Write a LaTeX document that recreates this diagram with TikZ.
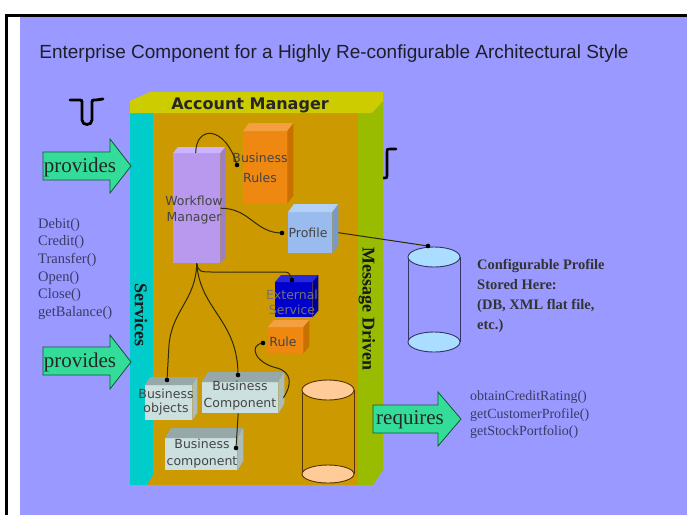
\documentclass[tikz,border=0pt]{standalone}
\usepackage{fontspec}
\setmainfont{Liberation Serif}
\newfontfamily\arialf{Liberation Sans}
\newfontfamily\verdf{DejaVu Sans}
\usetikzlibrary{calc}
\definecolor{bgc}{HTML}{9999FF}
\definecolor{titlec}{HTML}{1E1E2A}
\definecolor{topc}{HTML}{CCCC00}
\definecolor{cyanc}{HTML}{00CCCC}
\definecolor{goldc}{HTML}{CC9900}
\definecolor{greenc}{HTML}{99BB00}
\definecolor{lblc}{HTML}{444444}
\definecolor{connc}{HTML}{2E2A05}
\definecolor{arrc}{HTML}{33DD99}
\definecolor{arrd}{HTML}{115533}
\definecolor{methc}{HTML}{3A3A66}
\definecolor{cylc}{HTML}{333366}
\definecolor{cylf}{HTML}{AADDFF}
\definecolor{cyl2c}{HTML}{553300}
\definecolor{cyl2f}{HTML}{FFCC99}
\definecolor{wmf}{HTML}{B899EE}
\definecolor{wmt}{HTML}{CCB3FF}
\definecolor{wms}{HTML}{9A80CC}
\definecolor{orf}{HTML}{EE8811}
\definecolor{ort}{HTML}{F5A040}
\definecolor{ors}{HTML}{C87000}
\definecolor{pff}{HTML}{99BBEE}
\definecolor{pft}{HTML}{B5D0F5}
\definecolor{pfs}{HTML}{7799CC}
\definecolor{esf}{HTML}{0000CC}
\definecolor{est}{HTML}{2828DD}
\definecolor{ess}{HTML}{000099}
\definecolor{gyf}{HTML}{CCE0E0}
\definecolor{gyt}{HTML}{96A8A8}
\definecolor{gys}{HTML}{AABCBC}
\newcommand\cubefaces[5]{%
  \fill[#2] (#1.north west) -- ++(#4,-#5) -- ([shift={(#4,-#5)}]#1.north east) -- (#1.north east) -- cycle;
  \fill[#3] (#1.north east) -- ([shift={(#4,-#5)}]#1.north east) -- ([shift={(#4,-#5)}]#1.south east) -- (#1.south east) -- cycle;}
\begin{document}
\begin{tikzpicture}[x=1pt,y=-1pt,
  lbl/.style={font=\verdf\fontsize{12.5}{16}\selectfont, text=lblc, align=center, inner sep=0},
  conn/.style={draw=connc, line width=1pt},
  cubebox/.style={inner sep=0, anchor=north west, draw=none},
  greenarrow/.style={fill=arrc, draw=arrd, line width=0.8pt, line join=miter},
  arrtext/.style={font=\fontsize{21}{24}\selectfont, text=black!85, inner sep=0},
  meth/.style={font=\fontsize{14.5}{17.6}\selectfont, text=methc, align=left, inner sep=0, anchor=north west},
  vert/.style={rotate=-90, font=\bfseries\fontsize{18}{20}\selectfont, text=black!90, inner sep=0},
  ]
\useasboundingbox (0,0) rectangle (687,515);
\fill[white] (0,0) rectangle (687,515);
\fill[bgc] (20,16) rectangle (687,515);
\draw[line width=3pt] (6,515) -- (6,15) -- (687,15);

% title
\node[font=\arialf\fontsize{19}{22}\selectfont, text=titlec] (title) at (334,54)
  {Enterprise Component for a Highly Re-configurable Architectural Style};

% interface symbols
\draw[line width=2.8pt, line cap=round] (70,100) -- (78,100) .. controls (82,100) .. (82,104) -- (82,120)
  .. controls (82,126) and (92,126) .. (92,120) -- (92,104) .. controls (92,100) .. (96,100) -- (103,99);
\draw[line width=2.6pt, line cap=round] (396,149) -- (391,149) .. controls (387,149) .. (387,153) -- (387,174)
  .. controls (387,178) .. (383,178) -- (379,178);

% main component box
\fill[cyanc] (130,113) rectangle (153,485);
\fill[goldc] (153,113) -- (358,113) -- (358,485) -- (147,485) -- (153,475) -- cycle;
\fill[greenc] (358,113) -- (372,113) -- (383,101) -- (383,470) -- (373,485) -- (358,485) -- cycle;
\fill[topc] (130,113) -- (130,101) -- (150,92) -- (383,92) -- (383,101) -- (372,113) -- cycle;
\node[font=\verdf\bfseries\fontsize{16}{18}\selectfont, text=black!85, inner sep=0] (am) at (250,105) {Account Manager};
\node[vert] (svc) at (141,315) {Services};
\node[vert] (msg) at (367,309) {Message Driven};

% inner cubes
\node[cubebox, fill=wmf, minimum width=47, minimum height=110] (wm) at (173,153) {};
\cubefaces{wm}{wmt}{wms}{5}{6}
\node[cubebox, fill=orf, minimum width=44, minimum height=72] (br) at (243,131) {};
\cubefaces{br}{ort}{ors}{6}{8}
\node[cubebox, fill=pff, minimum width=44, minimum height=41] (pf) at (288,212) {};
\cubefaces{pf}{pft}{pfs}{6}{8}
\node[cubebox, fill=esf, minimum width=37, minimum height=35] (es) at (275,282) {};
\cubefaces{es}{est}{ess}{6}{7}
\node[cubebox, fill=orf, minimum width=35, minimum height=26] (ru) at (268,327) {};
\cubefaces{ru}{ort}{ors}{6}{7}
\node[cubebox, fill=gyf, minimum width=47, minimum height=35] (bo) at (145,385) {};
\cubefaces{bo}{gyt}{gys}{5}{8}
\node[cubebox, fill=gyf, minimum width=76, minimum height=31] (bc) at (202,382) {};
\cubefaces{bc}{gyt}{gys}{6}{10}
\node[cubebox, fill=gyf, minimum width=72, minimum height=32] (bcb) at (165,438) {};
\cubefaces{bcb}{gyt}{gys}{6}{10}

% cube labels
\node[lbl] (wml) at (194,210) {Workflow\\Manager};
\node[lbl, font=\verdf\fontsize{12.5}{20}\selectfont] (brl) at (260,168) {Business\\Rules};
\node[lbl] (pfl) at (308,233) {Profile};
\node[lbl, font=\verdf\fontsize{12.5}{15}\selectfont, text=black!55] (esl) at (292,302) {External\\Service};
\node[lbl] (rul) at (283,342) {Rule};
\node[lbl, font=\verdf\fontsize{12.5}{14.5}\selectfont] (bol) at (166,402) {Business\\objects};
\node[lbl, font=\verdf\fontsize{12.5}{17}\selectfont] (bcl) at (240,396) {Business\\Component};
\node[lbl, font=\verdf\fontsize{12.5}{17}\selectfont] (bcbl) at (202,454) {Business\\component};

% cylinders
\draw[cylc, line width=0.9pt] (408,257) -- (408,342) (460,257) -- (460,342);
\draw[cylc, fill=cylf, line width=0.9pt] (434,342) ellipse (26 and 10);
\draw[cylc, fill=cylf, line width=0.9pt] (434,257) ellipse (26 and 10);
\coordinate (cfg) at (434,257);
\draw[cyl2c, line width=0.9pt] (302,390) -- (302,474) (354,390) -- (354,474);
\draw[cyl2c, fill=cyl2f, line width=0.9pt] (328,474) ellipse (26 and 9);
\draw[cyl2c, fill=cyl2f, line width=0.9pt] (328,390) ellipse (26 and 10);

% connector end points
\coordinate (dBR) at (237,165);
\coordinate (dPF) at (282,233);
\coordinate (dES) at (292,280);
\coordinate (dBO) at (167,380);
\coordinate (dBC) at (238,375);
\coordinate (dRU) at (263,343);
\coordinate (dBCB) at (236,448);
\coordinate (dCY) at (428,246);

% connectors
\draw[conn] ([xshift=-1]wm.north) .. controls (196,125) and (225,125) .. (dBR);
\draw[conn] (wm.east) .. controls (250,208) and (255,233) .. (dPF);
\draw[conn] (wm.south) .. controls (199,272) .. (215,272) -- (282,272) .. controls (289,272) .. (dES);
\draw[conn] (wm.south) .. controls (196,300) and (172,310) .. (169,345) -- (dBO);
\draw[conn] (wm.south) .. controls (200,310) and (238,320) .. (dBC);
\draw[conn] ([xshift=5]bc.east) .. controls (292,385) and (292,372) .. (277,368)
  .. controls (255,363) and (248,345) .. (dRU);
\draw[conn] ([xshift=-2]bc.south) -- (dBCB);
\draw[conn] ([xshift=6]pf.east) -- (dCY);
\foreach \d in {dBR,dPF,dES,dBO,dBC,dRU,dBCB,dCY}
  \fill[black] (\d) circle (2.3);

% green arrows
\draw[greenarrow] (43,152) -- (110,152) -- (110,139) -- (131,166) -- (110,193) -- (110,180) -- (43,180) -- cycle;
\node[arrtext] (prov1) at (80,167) {provides};
\draw[greenarrow] (43,347) -- (110,347) -- (110,335) -- (131,362) -- (110,389) -- (110,375) -- (43,375) -- cycle;
\node[arrtext] (prov2) at (80,362) {provides};
\draw[greenarrow] (373,405) -- (438,405) -- (438,392) -- (461,419) -- (438,446) -- (438,433) -- (373,433) -- cycle;
\node[arrtext] (req) at (410,420) {requires};

% method lists
\node[meth] (lmeth) at (38,218) {Debit()\\Credit()\\Transfer()\\Open()\\Close()\\getBalance()};
\node[meth, font=\fontsize{14}{17.5}\selectfont] (rmeth) at (470,391) {obtainCreditRating()\\getCustomerProfile()\\getStockPortfolio()};

% profile note
\node[font=\bfseries\fontsize{14.5}{20}\selectfont, text=black!80, align=left, inner sep=0, anchor=north west] (cfgtxt) at (477,259)
  {Configurable Profile\\Stored Here:\\(DB, XML flat file,\\etc.)};
\end{tikzpicture}
\end{document}
